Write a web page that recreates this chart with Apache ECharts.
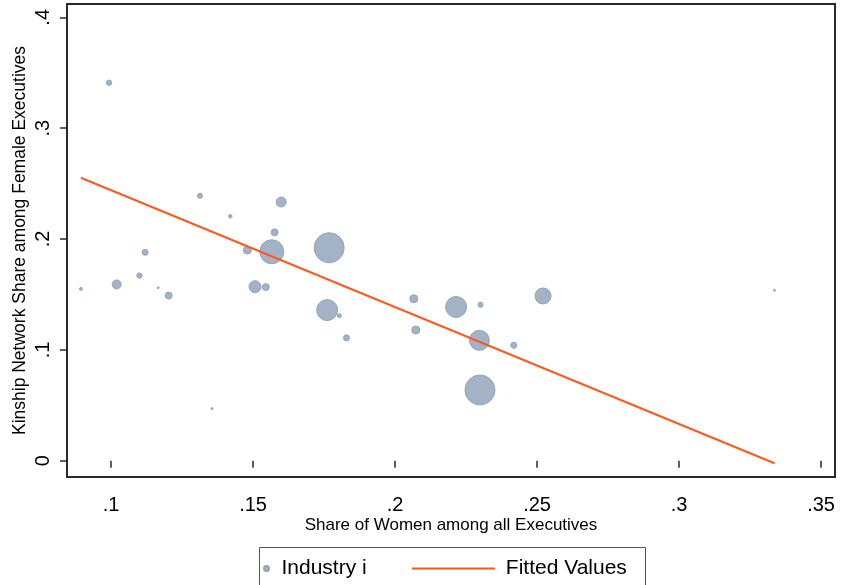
<!DOCTYPE html>
<html>
<head>
<meta charset="utf-8">
<script src="https://cdn.jsdelivr.net/npm/echarts@6/dist/echarts.min.js"></script>
<style>
html,body{margin:0;padding:0;background:#fff;}
#chart{width:842px;height:585px;}
</style>
</head>
<body>
<div id="chart"></div>
<script>
// Data
var shareWomen = [0.0993, 0.0894, 0.1020, 0.1120, 0.1100, 0.1166, 0.1203, 0.1313, 0.1420, 0.1356,
                  0.1480, 0.1599, 0.1576, 0.1566, 0.1507, 0.1545, 0.1768, 0.1761, 0.1804, 0.1829,
                  0.2066, 0.2073, 0.2215, 0.2301, 0.2297, 0.2299, 0.2418, 0.2521, 0.3336];
var kinshipShare = [0.341, 0.155, 0.159, 0.188, 0.167, 0.156, 0.149, 0.239, 0.2205, 0.047,
                    0.190, 0.2334, 0.206, 0.1885, 0.157, 0.1566, 0.1921, 0.1359, 0.1308, 0.1109,
                    0.1461, 0.1179, 0.1387, 0.1407, 0.1086, 0.0638, 0.1041, 0.1486, 0.1537];
var industryWeight = [7, 2, 20, 9, 7, 1, 12, 6, 3, 1,
                      16, 25, 12, 144, 36, 12, 225, 110, 4, 9,
                      16, 16, 110, 6, 100, 225, 9, 64, 1];
var fitX = [0.0894, 0.3336];
var fitY = [0.2553, -0.0023];
var xTicks = [0.1, 0.15, 0.2, 0.25, 0.3, 0.35];
var yTicks = [0, 0.1, 0.2, 0.3, 0.4];
var seriesNames = ['Industry i', 'Fitted Values'];

var scatterData = shareWomen.map(function (x, i) { return [x, kinshipShare[i], industryWeight[i]]; });
var lineData = fitX.map(function (x, i) { return [x, fitY[i]]; });

function fmt(v) {
  if (Math.abs(v) < 1e-9) return '0';
  var s = String(+v.toFixed(3));
  return s.replace(/^0\./, '.');
}

var FONT = 'Liberation Sans, Arial, Helvetica, sans-serif';
var chart = echarts.init(document.getElementById('chart'), null, {renderer: 'canvas'});
chart.setOption({
  animation: false,
  backgroundColor: '#fff',
  grid: {
    left: 67, right: 7, top: 4, bottom: 108,
    show: true, borderColor: '#2a2a2a', borderWidth: 2, backgroundColor: '#fff'
  },
  xAxis: {
    type: 'value', min: 0.0845, max: 0.3549,
    name: 'Share of Women among all Executives',
    nameLocation: 'middle', nameGap: 40, nameMoveOverlap: false,
    nameTextStyle: {fontFamily: FONT, fontSize: 17, color: '#000'},
    axisLine: {show: false},
    axisTick: {show: true, length: 7, inside: false, customValues: xTicks,
               lineStyle: {color: '#2a2a2a', width: 1.5}},
    axisLabel: {customValues: xTicks, formatter: fmt, margin: 18,
                fontFamily: FONT, fontSize: 20, color: '#000'},
    splitLine: {show: false}
  },
  yAxis: {
    type: 'value', min: -0.0147, max: 0.412,
    name: 'Kinship Network Share among Female Executives',
    nameLocation: 'middle', nameGap: 38, nameMoveOverlap: false,
    nameTextStyle: {fontFamily: FONT, fontSize: 17.5, color: '#000'},
    axisLine: {show: false},
    axisTick: {show: true, length: 7, inside: false, customValues: yTicks,
               lineStyle: {color: '#2a2a2a', width: 1.5}},
    axisLabel: {customValues: yTicks, formatter: fmt, margin: 14, rotate: 90,
                fontFamily: FONT, fontSize: 20, color: '#000'},
    splitLine: {show: false}
  },
  legend: [
    {
      data: [{name: seriesNames[0], icon: 'circle'}],
      left: 258, top: 553, itemWidth: 20, itemHeight: 5,
      textStyle: {fontFamily: FONT, fontSize: 21, color: '#000'},
      selectedMode: false
    },
    {
      data: [{name: seriesNames[1], icon: 'rect'}],
      left: 407, top: 553, itemWidth: 83, itemHeight: 2,
      formatter: function (n) { return ' ' + n; },
      textStyle: {fontFamily: FONT, fontSize: 21, color: '#000'},
      selectedMode: false
    }
  ],
  graphic: [{
    type: 'rect', left: 257, top: 545, silent: true,
    shape: {width: 386, height: 60},
    style: {fill: 'none', stroke: '#555', lineWidth: 1}
  }],
  series: [
    {
      name: seriesNames[0], type: 'scatter', data: scatterData,
      symbol: 'circle',
      symbolSize: function (v) { return 2 * Math.sqrt(v[2]); },
      itemStyle: {color: '#a3b3c5', borderColor: '#93a4b9', borderWidth: 1, opacity: 1},
      z: 2
    },
    {
      name: seriesNames[1], type: 'line', data: lineData,
      symbol: 'none', showSymbol: false,
      lineStyle: {color: '#fb5a1c', width: 2},
      itemStyle: {color: '#fb5a1c'},
      z: 3
    }
  ]
});
</script>
</body>
</html>
